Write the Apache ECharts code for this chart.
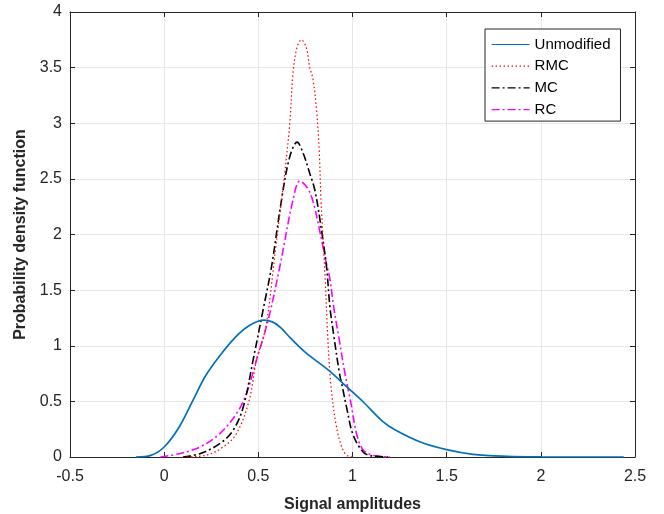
<!DOCTYPE html>
<html>
<head>
<meta charset="utf-8">
<script src="https://cdn.jsdelivr.net/npm/echarts@6/dist/echarts.min.js"></script>
<style>
html,body{margin:0;padding:0;background:#fff;}
#chart{width:664px;height:514px;}
</style>
</head>
<body>
<div id="chart"></div>
<script>
const seriesNames = ['Unmodified', 'RMC', 'MC', 'RC'];
const xTicks = [-0.5, 0, 0.5, 1, 1.5, 2, 2.5];
const yTicks = [0, 0.5, 1, 1.5, 2, 2.5, 3, 3.5, 4];

const unmodified = [
  [-0.15,0],[-0.07,0.015],[0,0.09],[0.08,0.27],[0.15,0.5],[0.22,0.73],[0.3,0.92],
  [0.38,1.08],[0.45,1.18],[0.53,1.23],[0.58,1.21],[0.62,1.16],[0.67,1.07],[0.75,0.94],
  [0.88,0.77],[0.97,0.63],[1.06,0.49],[1.16,0.32],[1.23,0.24],[1.36,0.135],[1.5,0.066],
  [1.64,0.024],[1.82,0.006],[2.0,0.001],[2.2,0],[2.44,0]
];
const rmc = [
  [0.1,0],[0.22,0.015],[0.3,0.075],[0.38,0.2],[0.45,0.5],[0.49,0.87],[0.54,1.17],
  [0.59,1.85],[0.64,2.55],[0.667,3.0],[0.684,3.45],[0.705,3.68],[0.729,3.75],[0.755,3.68],
  [0.773,3.5],[0.79,3.4],[0.809,3.12],[0.823,2.76],[0.833,2.3],[0.855,1.6],[0.868,1.1],
  [0.885,0.65],[0.915,0.27],[0.95,0.06],[0.98,0.005],[1.0,0]
];
const mc = [
  [0.1,0],[0.19,0.03],[0.295,0.12],[0.366,0.24],[0.42,0.45],[0.472,0.87],[0.525,1.32],
  [0.57,1.71],[0.623,2.31],[0.667,2.7],[0.706,2.83],[0.738,2.73],[0.773,2.55],[0.8,2.4],
  [0.83,2.1],[0.862,1.71],[0.88,1.35],[0.9,1.1],[0.93,0.76],[0.95,0.6],[0.968,0.45],
  [1.003,0.2],[1.056,0.045],[1.1,0.01],[1.2,0]
];
const rc = [
  [-0.02,0],[0.08,0.03],[0.19,0.09],[0.295,0.21],[0.384,0.39],[0.437,0.57],[0.49,0.87],
  [0.552,1.23],[0.614,1.71],[0.684,2.31],[0.72,2.48],[0.76,2.42],[0.79,2.3],[0.83,2.0],
  [0.86,1.75],[0.88,1.6],[0.9,1.35],[0.93,1.05],[0.96,0.75],[0.99,0.5],[1.02,0.22],
  [1.05,0.08],[1.09,0.025],[1.15,0.005],[1.2,0]
];

const chart = echarts.init(document.getElementById('chart'), null, {renderer: 'canvas'});
const axisColor = '#262626';
const gridColor = '#e6e6e6';
const font = 'Liberation Sans, Arial, Helvetica, sans-serif';

function mkX(show, pos){
  return {
    type: 'value', min: xTicks[0], max: xTicks[xTicks.length-1], interval: 0.5,
    position: pos,
    axisLine: {show: true, onZero: false, lineStyle: {color: axisColor, width: 1}},
    axisTick: {show: true, inside: true, length: 5, lineStyle: {color: axisColor}},
    splitLine: {show: show, lineStyle: {color: gridColor, width: 1}},
    axisLabel: {show: show, color: axisColor, fontSize: 16, fontFamily: font, margin: 12,
      formatter: v => String(v)},
    name: show ? 'Signal amplitudes' : '',
    nameLocation: 'middle', nameGap: 40,
    nameTextStyle: {color: axisColor, fontSize: 16, fontWeight: 'bold', fontFamily: font}
  };
}
function mkY(show, pos){
  return {
    type: 'value', min: yTicks[0], max: yTicks[yTicks.length-1], interval: 0.5,
    position: pos,
    axisLine: {show: true, onZero: false, lineStyle: {color: axisColor, width: 1}},
    axisTick: {show: true, inside: true, length: 5, lineStyle: {color: axisColor}},
    splitLine: {show: show, lineStyle: {color: gridColor, width: 1}},
    axisLabel: {show: show, color: axisColor, fontSize: 16, fontFamily: font, margin: 8,
      formatter: v => String(v)},
    name: show ? 'Probability density function' : '',
    nameLocation: 'middle', nameGap: 37,
    nameTextStyle: {color: axisColor, fontSize: 16, fontWeight: 'bold', fontFamily: font}
  };
}

const styles = [
  {color: '#0072BD', width: 1.7, type: 'solid'},
  {color: '#FF0000', width: 1.2, type: [1.5, 2.5]},
  {color: '#000000', width: 1.6, type: [8, 3, 2, 3]},
  {color: '#FF00FF', width: 1.6, type: [8, 3, 2, 3]}
];
const datas = [unmodified, rmc, mc, rc];

option = {
  backgroundColor: '#fff',
  animation: false,
  grid: {left: 70, right: 29, top: 12, bottom: 57, containLabel: false, outerBoundsMode: 'none'},
  xAxis: [mkX(true, 'bottom'), mkX(false, 'top')],
  yAxis: [mkY(true, 'left'), mkY(false, 'right')],
  legend: {
    orient: 'vertical', left: 485, top: 29,
    padding: [8, 10, 4, 6],
    itemWidth: 38, itemHeight: 15, itemGap: 6.7,
    backgroundColor: '#fff', borderColor: axisColor, borderWidth: 1,
    textStyle: {color: '#000', fontSize: 15, fontFamily: font},
    itemStyle: {opacity: 0, color: 'rgba(0,0,0,0)', borderColor: 'rgba(0,0,0,0)', borderWidth: 0},
    lineStyle: {width: 1.2},
    data: seriesNames
  },
  series: seriesNames.map((n, i) => ({
    name: n, type: 'line', data: datas[i], smooth: 0.35, showSymbol: false, symbol: 'none',
    xAxisIndex: 0, yAxisIndex: 0,
    lineStyle: styles[i], itemStyle: {color: styles[i].color}, z: 3 + (4 - i)
  }))
};
chart.setOption(option);
</script>
</body>
</html>
